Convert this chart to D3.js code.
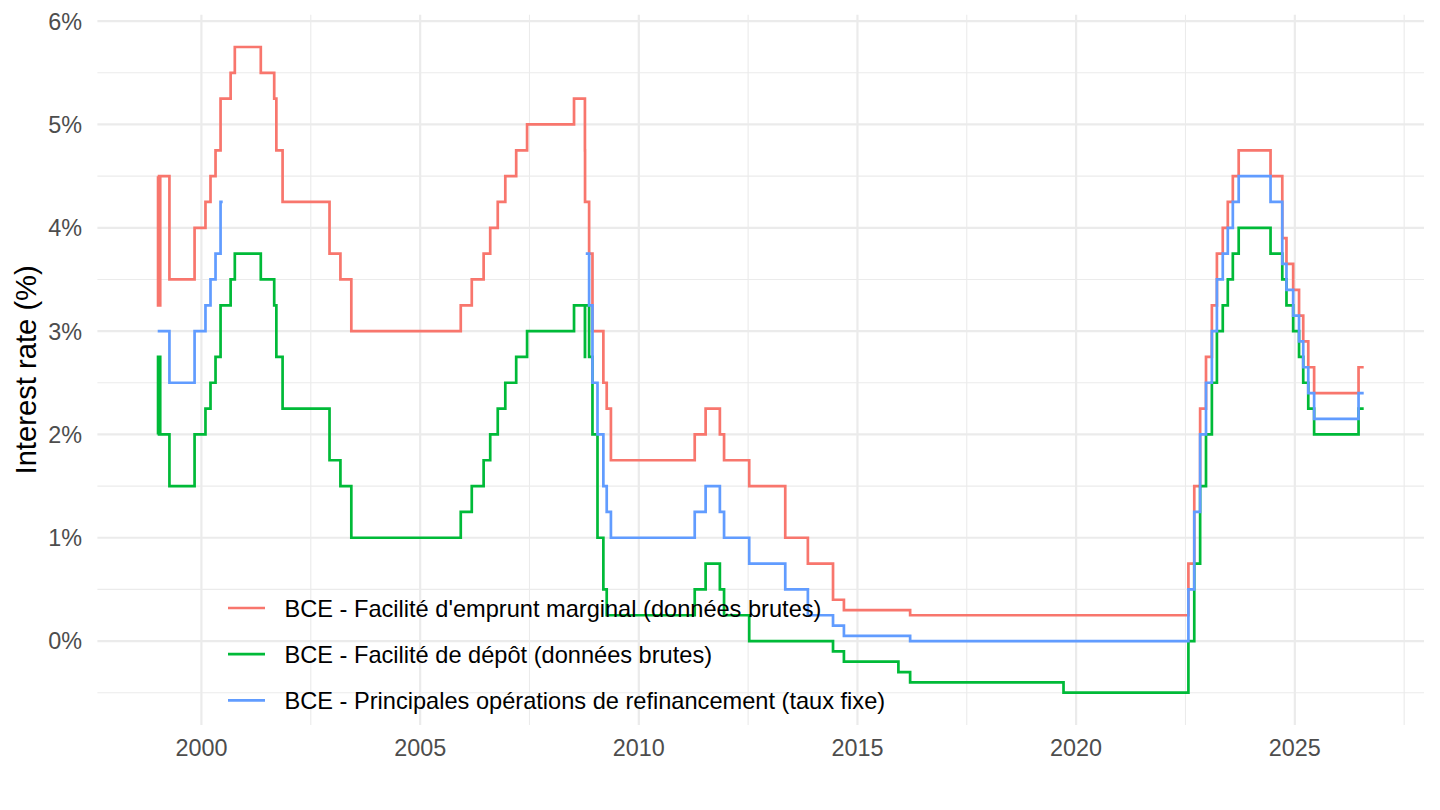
<!DOCTYPE html>
<html>
<head>
<meta charset="utf-8">
<script src="https://cdnjs.cloudflare.com/ajax/libs/d3/7.8.5/d3.min.js"></script>
<style>
  body { margin: 0; background: #fff; }
  text { font-family: "Liberation Sans", Arial, sans-serif; }
</style>
</head>
<body>
<div id="chart"></div>
<script>
// ECB key rates, step changes (value holds until next date)
const mlfDates = ["1999-01-01","1999-01-04","1999-01-22","1999-04-09","1999-11-05","2000-02-04","2000-03-17","2000-04-28","2000-06-09","2000-09-01","2000-10-06","2001-05-11","2001-08-31","2001-09-18","2001-11-09","2002-12-06","2003-03-07","2003-06-06","2005-12-06","2006-03-08","2006-06-15","2006-08-09","2006-10-11","2006-12-13","2007-03-14","2007-06-13","2008-07-09","2008-10-08","2008-10-09","2008-11-12","2008-12-10","2009-03-11","2009-04-08","2009-05-13","2011-04-13","2011-07-13","2011-11-09","2011-12-14","2012-07-11","2013-05-08","2013-11-13","2014-06-11","2014-09-10","2016-03-16","2022-07-27","2022-09-14","2022-11-02","2022-12-21","2023-02-08","2023-03-22","2023-05-10","2023-06-21","2023-08-02","2023-09-20","2024-06-12","2024-09-18","2024-10-23","2024-12-18","2025-02-05","2025-03-12","2025-04-23","2025-06-11","2026-06-17","2026-07-30"];
const mlfRates = [4.50,3.25,4.50,3.50,4.00,4.25,4.50,4.75,5.25,5.50,5.75,5.50,5.25,4.75,4.25,3.75,3.50,3.00,3.25,3.50,3.75,4.00,4.25,4.50,4.75,5.00,5.25,4.75,4.25,3.75,3.00,2.50,2.25,1.75,2.00,2.25,2.00,1.75,1.50,1.00,0.75,0.40,0.30,0.25,0.75,1.50,2.25,2.75,3.25,3.75,4.00,4.25,4.50,4.75,4.50,3.90,3.65,3.40,3.15,2.90,2.65,2.40,2.65,2.65];

const dfDates = ["1999-01-01","1999-01-04","1999-01-22","1999-04-09","1999-11-05","2000-02-04","2000-03-17","2000-04-28","2000-06-09","2000-09-01","2000-10-06","2001-05-11","2001-08-31","2001-09-18","2001-11-09","2002-12-06","2003-03-07","2003-06-06","2005-12-06","2006-03-08","2006-06-15","2006-08-09","2006-10-11","2006-12-13","2007-03-14","2007-06-13","2008-07-09","2008-10-08","2008-10-09","2008-11-12","2008-12-10","2009-01-21","2009-03-11","2009-04-08","2011-04-13","2011-07-13","2011-11-09","2011-12-14","2012-07-11","2014-06-11","2014-09-10","2015-12-09","2016-03-16","2019-09-18","2022-07-27","2022-09-14","2022-11-02","2022-12-21","2023-02-08","2023-03-22","2023-05-10","2023-06-21","2023-08-02","2023-09-20","2024-06-12","2024-09-18","2024-10-23","2024-12-18","2025-02-05","2025-03-12","2025-04-23","2025-06-11","2026-06-17","2026-07-30"];
const dfRates = [2.00,2.75,2.00,1.50,2.00,2.25,2.50,2.75,3.25,3.50,3.75,3.50,3.25,2.75,2.25,1.75,1.50,1.00,1.25,1.50,1.75,2.00,2.25,2.50,2.75,3.00,3.25,2.75,3.25,2.75,2.00,1.00,0.50,0.25,0.50,0.75,0.50,0.25,0.00,-0.10,-0.20,-0.30,-0.40,-0.50,0.00,0.75,1.50,2.00,2.50,3.00,3.25,3.50,3.75,4.00,3.75,3.50,3.25,3.00,2.75,2.50,2.25,2.00,2.25,2.25];

// fixed rate only: no value during the variable rate tender years
const mroDates = ["1999-01-01","1999-04-09","1999-11-05","2000-02-04","2000-03-17","2000-04-28","2000-06-09","2000-06-27","2000-06-28","2008-10-15","2008-11-12","2008-12-10","2009-01-21","2009-03-11","2009-04-08","2009-05-13","2011-04-13","2011-07-13","2011-11-09","2011-12-14","2012-07-11","2013-05-08","2013-11-13","2014-06-11","2014-09-10","2016-03-16","2022-07-27","2022-09-14","2022-11-02","2022-12-21","2023-02-08","2023-03-22","2023-05-10","2023-06-21","2023-08-02","2023-09-20","2024-06-12","2024-09-18","2024-10-23","2024-12-18","2025-02-05","2025-03-12","2025-04-23","2025-06-11","2026-06-17","2026-07-30"];
const mroRates = [3.00,2.50,3.00,3.25,3.50,3.75,4.25,4.25,null,3.75,3.25,2.50,2.00,1.50,1.25,1.00,1.25,1.50,1.25,1.00,0.75,0.50,0.25,0.15,0.05,0.00,0.50,1.25,2.00,2.50,3.00,3.50,3.75,4.00,4.25,4.50,4.25,3.65,3.40,3.15,2.90,2.65,2.40,2.15,2.40,2.40];

const seriesNames = ["BCE - Facilité d'emprunt marginal (données brutes)",
                     "BCE - Facilité de dépôt (données brutes)",
                     "BCE - Principales opérations de refinancement (taux fixe)"];
const seriesColors = ["#F8766D", "#00BA38", "#619CFF"];
const yTicks = [0, 1, 2, 3, 4, 5, 6];
const xTickYears = [2000, 2005, 2010, 2015, 2020, 2025];

const width = 1440, height = 810;
const margin = {top: 14.7, right: 16, bottom: 85, left: 97.4};

const parse = d3.utcParse("%Y-%m-%d");
const makeSeries = (dates, rates) => dates.map((d, i) => ({date: parse(d), v: rates[i]}));
const series = [makeSeries(mlfDates, mlfRates), makeSeries(dfDates, dfRates), makeSeries(mroDates, mroRates)];

const all = series.flat().filter(d => d.v != null);
const xExt = d3.extent(all, d => d.date);
const yExt = d3.extent(all, d => d.v);
const xPad = (xExt[1] - xExt[0]) * 0.05;
const yPad = (yExt[1] - yExt[0]) * 0.05;

const x = d3.scaleUtc()
    .domain([new Date(+xExt[0] - xPad), new Date(+xExt[1] + xPad)])
    .range([margin.left, width - margin.right]);
const y = d3.scaleLinear()
    .domain([yExt[0] - yPad, yExt[1] + yPad])
    .range([height - margin.bottom, margin.top]);

const svg = d3.select("#chart").append("svg")
    .attr("width", width).attr("height", height);

// grid
const grid = svg.append("g");
const xMajor = xTickYears.map(yr => Date.UTC(yr, 0, 1));
const xMinor = [];
for (let i = 0; i < xMajor.length; i++) {
    const next = i + 1 < xMajor.length ? xMajor[i + 1] : Date.UTC(xTickYears[i] + 5, 0, 1);
    xMinor.push((xMajor[i] + next) / 2);
}
const yMinor = [-0.5].concat(yTicks.slice(0, -1).map(t => t + 0.5));

grid.selectAll(".ymin").data(yMinor).enter().append("line")
    .attr("x1", margin.left).attr("x2", width - margin.right)
    .attr("y1", d => y(d)).attr("y2", d => y(d))
    .attr("stroke", "#EBEBEB").attr("stroke-width", 1.1);
grid.selectAll(".xmin").data(xMinor.filter(d => x(d) <= width - margin.right)).enter().append("line")
    .attr("x1", d => x(d)).attr("x2", d => x(d))
    .attr("y1", margin.top).attr("y2", height - margin.bottom)
    .attr("stroke", "#EBEBEB").attr("stroke-width", 1.1);
grid.selectAll(".ymaj").data(yTicks).enter().append("line")
    .attr("x1", margin.left).attr("x2", width - margin.right)
    .attr("y1", d => y(d)).attr("y2", d => y(d))
    .attr("stroke", "#EBEBEB").attr("stroke-width", 2.2);
grid.selectAll(".xmaj").data(xMajor).enter().append("line")
    .attr("x1", d => x(d)).attr("x2", d => x(d))
    .attr("y1", margin.top).attr("y2", height - margin.bottom)
    .attr("stroke", "#EBEBEB").attr("stroke-width", 2.2);

// axes labels
svg.append("g").selectAll("text").data(yTicks).enter().append("text")
    .attr("x", 82).attr("y", d => y(d)).attr("dy", "0.36em")
    .attr("text-anchor", "end").attr("font-size", 23.4).attr("fill", "#4D4D4D")
    .text(d => d + "%");
svg.append("g").selectAll("text").data(xTickYears).enter().append("text")
    .attr("x", d => x(Date.UTC(d, 0, 1))).attr("y", 755.5)
    .attr("text-anchor", "middle").attr("font-size", 23.4).attr("fill", "#4D4D4D")
    .text(d => d);
svg.append("text")
    .attr("transform", `translate(36,${(margin.top + height - margin.bottom) / 2}) rotate(-90)`)
    .attr("text-anchor", "middle").attr("font-size", 29.2).attr("fill", "#000")
    .text("Interest rate (%)");

// lines
const line = d3.line()
    .defined(d => d.v != null)
    .x(d => x(d.date)).y(d => y(d.v))
    .curve(d3.curveStepAfter);

svg.append("g").selectAll("path").data(series).enter().append("path")
    .attr("d", line)
    .attr("fill", "none")
    .attr("stroke", (d, i) => seriesColors[i])
    .attr("stroke-width", 2.7);

// legend
const legend = svg.append("g");
const rows = legend.selectAll("g").data(seriesNames).enter().append("g")
    .attr("transform", (d, i) => `translate(0,${608 + i * 46.2})`);
rows.append("line")
    .attr("x1", 228).attr("x2", 265)
    .attr("stroke", (d, i) => seriesColors[i]).attr("stroke-width", 2.7);
rows.append("text")
    .attr("x", 284.5).attr("dy", "0.36em")
    .attr("font-size", 23.6).attr("fill", "#000")
    .text(d => d);
</script>
</body>
</html>
